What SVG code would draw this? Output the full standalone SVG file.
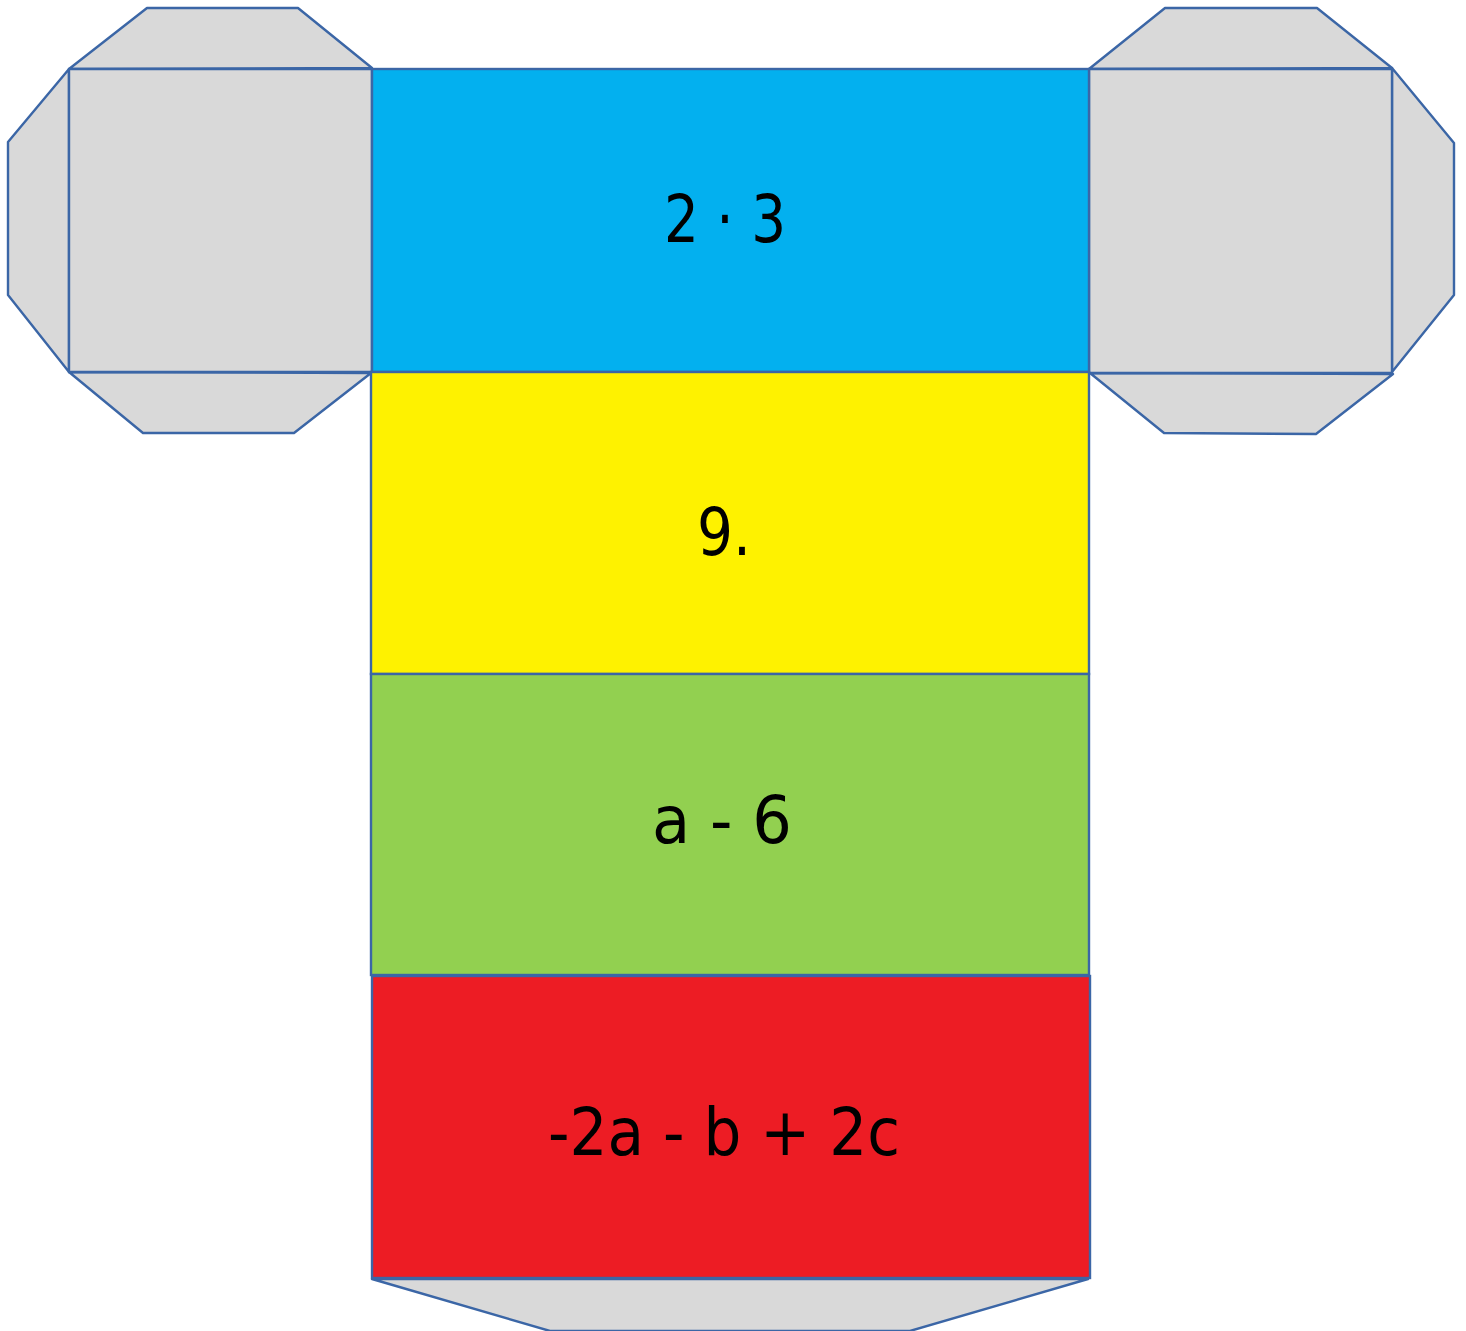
<svg xmlns="http://www.w3.org/2000/svg" width="1466" height="1331" viewBox="0 0 1466 1331">
<style>
.flap{fill:#d9d9d9;stroke:#3b66a6;stroke-width:2.4;stroke-linejoin:round}
.face{stroke:#3b66a6;stroke-width:2.4}
.lbl{font-family:"DejaVu Sans",sans-serif;font-size:66px;fill:#000;text-anchor:middle}
</style>
<rect width="1466" height="1331" fill="#fff"/>
<g id="left-end">
<polygon class="flap" points="69,69 147,8 298,8 372,68"/>
<polygon class="flap" points="69,69 8,142 8,295 69,372"/>
<polygon class="flap" points="69,372 143,433 294,433 371,373"/>
<rect class="flap" x="69" y="69" width="303" height="303"/>
</g>
<g id="right-end">
<polygon class="flap" points="1089,69 1165,8 1317,8 1392,68"/>
<polygon class="flap" points="1392,68 1454,143 1454,295 1392,372"/>
<polygon class="flap" points="1090,373 1164,433 1316,434 1393,374"/>
<rect class="flap" x="1089" y="69" width="303" height="304"/>
</g>
<g id="bottom-flap">
<polygon class="flap" points="372,1279 550,1331 910,1331 1088,1279"/>
</g>
<g id="face-blue">
<rect class="face" x="372" y="69" width="717" height="303" fill="#03b0ef"/>
<text class="lbl" x="725" y="242" textLength="122" lengthAdjust="spacingAndGlyphs">2 · 3</text>
</g>
<g id="face-yellow">
<rect class="face" x="371" y="372" width="718" height="302" fill="#fef200"/>
<text class="lbl" x="724" y="555" textLength="54" lengthAdjust="spacingAndGlyphs">9.</text>
</g>
<g id="face-green">
<rect class="face" x="371" y="674" width="718" height="301" fill="#92d050"/>
<text class="lbl" x="722" y="843" textLength="140" lengthAdjust="spacingAndGlyphs">a - 6</text>
</g>
<g id="face-red">
<rect class="face" x="372" y="976" width="718" height="302" fill="#ed1c24"/>
<text class="lbl" x="724" y="1155" textLength="352" lengthAdjust="spacingAndGlyphs">-2a - b + 2c</text>
</g>
<g id="connectors"/>
</svg>
